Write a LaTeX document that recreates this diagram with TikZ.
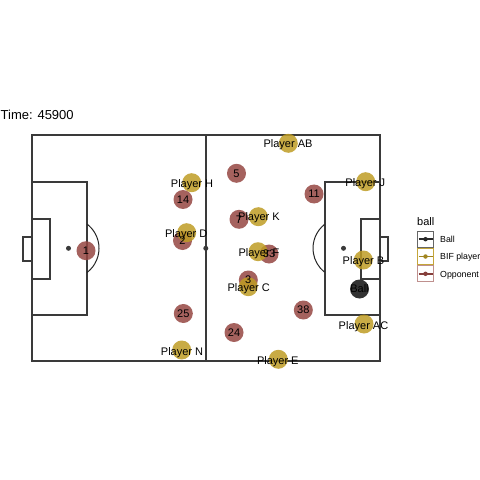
\documentclass[tikz,border=0pt]{standalone}
\usepackage{fontspec}
\setmainfont{Liberation Sans}
\begin{document}
\begin{tikzpicture}[x=1bp,y=-1bp,
  pitch/.style={draw=pitchc, line width=2bp},
  thinarc/.style={draw=black!85, line width=1bp},
  spot/.style={circle, fill=pitchc, inner sep=0pt, minimum size=5bp},
  opp/.style={circle, fill=oppc, fill opacity=0.85, inner sep=0pt, minimum size=19bp},
  bif/.style={circle, fill=bifc, fill opacity=0.85, inner sep=0pt, minimum size=19bp},
  ballc/.style={circle, fill=ballcol, fill opacity=0.95, inner sep=0pt, minimum size=19bp},
  lbl/.style={anchor=base, inner sep=0pt, font=\fontsize{11bp}{12bp}\selectfont, text=black},
  legtxt/.style={anchor=base west, inner sep=0pt, font=\fontsize{8.8bp}{10bp}\selectfont, text=black},
  keybox/.style={line width=1.2bp, fill=white}
]
\definecolor{pitchc}{HTML}{3A3A3A}
\definecolor{oppc}{RGB}{149,70,66}
\definecolor{bifc}{RGB}{190,156,36}
\definecolor{ballcol}{RGB}{40,40,40}
\useasboundingbox (0,0) rectangle (480,480);

% title
\node[anchor=base west, inner sep=0pt, font=\fontsize{13bp}{14bp}\selectfont] (title) at (0.5,119.5) {Time: 45900};

% pitch
\draw[pitch] (32,135.5) rectangle (379.5,360.5);
\draw[pitch] (205.8,135.5) -- (205.8,360.5);
\draw[pitch] (32,181.7) rectangle (87,315);
\draw[pitch] (32,218.5) rectangle (50,278.5);
\draw[pitch] (23,236.7) rectangle (32,261);
\draw[pitch] (379.5,181.7) rectangle (324.5,315);
\draw[pitch] (379.5,218.5) rectangle (361,279);
\draw[pitch] (379.5,236.7) rectangle (388,261);
\draw[thinarc] ([shift={(-52.7:30.5bp)}]68.5,248.3) arc[start angle=-52.7, end angle=52.7, radius=30.5bp];
\draw[thinarc] ([shift={(128.5:30.5bp)}]343.5,248.3) arc[start angle=128.5, end angle=231.5, radius=30.5bp];
\node[spot] (cspot) at (205.8,248.3) {};
\node[spot] (lspot) at (68.5,248.3) {};
\node[spot] (rspot) at (343.5,248.3) {};

% opponents
\node[opp] (o1) at (86,250.7) {};
\node[opp] (o14) at (183,199.5) {};
\node[opp] (o2) at (182.5,240.5) {};
\node[opp] (o5) at (236.5,173.3) {};
\node[opp] (o7) at (239,219.3) {};
\node[opp] (o33) at (269,254) {};
\node[opp] (o11) at (314,194) {};
\node[opp] (o3) at (248.3,280) {};
\node[opp] (o25) at (183.3,313.5) {};
\node[opp] (o24) at (234,332.5) {};
\node[opp] (o38) at (303.3,310) {};

% BIF players
\node[bif] (pH) at (191.7,182.7) {};
\node[bif] (pD) at (186.7,232.7) {};
\node[bif] (pAB) at (288.3,143.3) {};
\node[bif] (pJ) at (365.7,181.7) {};
\node[bif] (pK) at (258.3,216.7) {};
\node[bif] (pF) at (258,251.7) {};
\node[bif] (pB) at (363.3,260) {};
\node[bif] (pC) at (248.3,286.7) {};
\node[bif] (pAC) at (364,324) {};
\node[bif] (pN) at (181.7,350) {};
\node[bif] (pE) at (278.3,359.3) {};

% ball
\node[ballc] (ball) at (359.5,289) {};

% texts
\node[lbl] (t1) at (86,254.6) {1};
\node[lbl] (t14) at (183,203.4) {14};
\node[lbl] (t2) at (182.5,244.4) {2};
\node[lbl] (t5) at (236.5,177.2) {5};
\node[lbl] (t7) at (239,223.2) {7};
\node[lbl] (t33) at (269,257.9) {33};
\node[lbl] (t11) at (314,197.9) {11};
\node[lbl] (t3) at (248.3,283.9) {3};
\node[lbl] (t25) at (183.3,317.4) {25};
\node[lbl] (t24) at (234,336.4) {24};
\node[lbl] (t38) at (303.3,313.9) {38};
\node[lbl] (tH) at (192,187.1) {Player H};
\node[lbl] (tD) at (186.2,237.3) {Player D};
\node[lbl] (tAB) at (288,147.8) {Player AB};
\node[lbl] (tJ) at (365.3,186.1) {Player J};
\node[lbl] (tK) at (259,220.9) {Player K};
\node[lbl] (tF) at (259,256.9) {Player F};
\node[lbl] (tB) at (363.5,264.9) {Player B};
\node[lbl] (tC) at (248.7,291.9) {Player C};
\node[lbl] (tAC) at (363.5,329) {Player AC};
\node[lbl] (tN) at (182,355) {Player N};
\node[lbl] (tE) at (277.8,364) {Player E};
\node[lbl] (tball) at (359.5,292.9) {Ball};

% legend
\node[anchor=base west, inner sep=0pt, font=\fontsize{11bp}{12bp}\selectfont] (legtitle) at (417,225.3) {ball};
\draw[keybox, draw=black!60] (417.5,231.2) rectangle (433.5,247.2);
\draw[line width=1.5bp, draw=ballcol] (418.5,239.2) -- (432.5,239.2);
\node[circle, fill=ballcol, inner sep=0pt, minimum size=4.5bp] (k1) at (425.5,239.2) {};
\draw[keybox, draw=bifc!90] (417.5,248.5) rectangle (433.5,264.5);
\draw[line width=1.5bp, draw=bifc!85!black] (418.5,256.5) -- (432.5,256.5);
\node[circle, fill=bifc!85!black, inner sep=0pt, minimum size=4.5bp] (k2) at (425.5,256.5) {};
\draw[keybox, draw=oppc!60] (417.5,265.8) rectangle (433.5,281.8);
\draw[line width=1.5bp, draw=oppc!90!black] (418.5,273.8) -- (432.5,273.8);
\node[circle, fill=oppc!90!black, inner sep=0pt, minimum size=4.5bp] (k3) at (425.5,273.8) {};
\node[legtxt] (l1) at (440,242.5) {Ball};
\node[legtxt] (l2) at (440,259.8) {BIF player};
\node[legtxt] (l3) at (440,277.1) {Opponent};
\end{tikzpicture}
\end{document}
